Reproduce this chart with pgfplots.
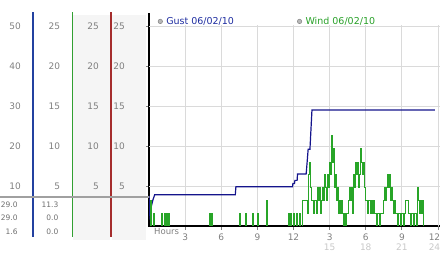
\documentclass[border=0pt]{standalone}
\usepackage{pgfplots}
\usepackage{pgfplotstable}
\pgfplotsset{compat=1.18}
\usepackage{fontspec}
\setmainfont{DejaVu Sans}
\definecolor{gustc}{RGB}{20,20,140}
\definecolor{gustleg}{RGB}{30,45,160}
\definecolor{windc}{RGB}{40,165,40}
\definecolor{windleg}{RGB}{40,160,40}
\definecolor{bluel}{RGB}{35,65,160}
\definecolor{greenl}{RGB}{50,160,50}
\definecolor{redl}{RGB}{165,45,45}
\definecolor{gridc}{RGB}{218,218,218}
\definecolor{panelbg}{RGB}{245,245,245}
\definecolor{tickc}{RGB}{128,128,128}
\definecolor{tick2c}{RGB}{200,200,200}
\definecolor{sepc}{RGB}{160,160,160}
\definecolor{statc}{RGB}{110,110,110}
\definecolor{legc}{RGB}{140,140,140}
\definecolor{legf}{RGB}{185,185,185}

\pgfplotsset{every axis/.append style={/pgf/number format/assume math mode=true}}
\pgfplotsset{
  colaxis/.style={
    scale only axis, width=1pt, anchor=south west,
    xmin=0, xmax=1, axis x line=none, axis y line*=left,
    xtick=\empty,
    axis line style={-},
    major tick length=0pt,
    yticklabel style={anchor=east, inner sep=0pt, xshift=-12pt, text=tickc, font=\fontsize{9}{10}\selectfont},
    clip=false,
  },
  helper/.style={
    at={(0pt,0pt)}, anchor=south west, scale only axis, width=442pt, height=253pt,
    xmin=0, xmax=442, ymin=0, ymax=253, hide axis, clip=false,
  }
}

% gust (km/h) against minutes after midnight
\pgfplotstableread{
min gust
0 3.8
5 0.8
12 2.5
20 3.3
28 3.9
430 3.9
433 4.9
715 4.9
717 5.3
725 5.3
727 5.7
738 5.7
740 6.5
783 6.5
788 8.0
793 9.6
802 9.6
812 14.5
1425 14.5
}\gusttable

% wind against minutes after midnight
\pgfplotstableread{
min wind
0 0
5 3.2
10 0
20 1.6
25 0
60 1.6
65 0
75 1.6
80 0
88 1.6
93 0
98 1.6
103 0
302 1.6
307 0
313 1.6
318 0
452 1.6
457 0
480 1.6
485 0
513 1.6
518 0
541 1.6
546 0
585 3.2
590 0
693 1.6
698 0
705 1.6
710 0
720 1.6
725 0
735 1.6
740 0
750 1.6
755 0
765 3.2
790 1.6
795 6.4
800 8.0
805 4.8
810 3.2
820 1.6
825 3.2
835 1.6
840 4.8
845 3.2
850 4.8
855 1.6
860 3.2
865 4.8
870 3.2
875 6.4
880 4.8
885 3.2
890 6.4
895 4.8
900 8.0
905 6.4
910 11.3
915 8.0
920 9.7
925 4.8
930 6.4
935 3.2
940 4.8
945 1.6
950 3.2
955 1.6
960 3.2
965 1.6
970 0
975 1.6
980 0
985 1.6
995 3.2
1000 4.8
1005 3.2
1010 4.8
1015 1.6
1020 6.4
1025 4.8
1030 8.0
1035 6.4
1040 8.0
1045 4.8
1050 6.4
1055 9.7
1060 8.0
1065 6.4
1070 8.0
1075 4.8
1080 3.2
1090 1.6
1095 3.2
1105 1.6
1110 3.2
1115 1.6
1120 3.2
1125 1.6
1135 0
1140 1.6
1150 0
1155 1.6
1170 3.2
1175 4.8
1180 3.2
1185 4.8
1190 6.4
1195 4.8
1200 6.4
1205 3.2
1210 4.8
1215 3.2
1220 1.6
1225 3.2
1230 1.6
1240 0
1245 1.6
1255 0
1260 1.6
1270 0
1275 1.6
1280 3.2
1295 1.6
1305 0
1310 1.6
1320 0
1325 1.6
1335 0
1340 4.8
1345 3.2
1350 1.6
1355 3.2
1360 1.6
1365 3.2
1370 0
1430 0
}\windtable

\begin{document}
\begin{tikzpicture}
\useasboundingbox (0,0) rectangle (442pt,253pt);

% background of the scale panel
\begin{axis}[helper]
\fill[panelbg] (axis cs:73,13) rectangle (axis cs:110,238);
\fill[panelbg] (axis cs:112,13) rectangle (axis cs:146,238);
\end{axis}

% scale columns
\begin{axis}[colaxis, at={(33pt,16pt)}, height=225pt, ymin=-2.75, ymax=53.5,
  ytick={10,20,...,50}, y axis line style={bluel, line width=1.3pt}]
\end{axis}
\begin{axis}[colaxis, at={(72.3pt,16pt)}, height=225pt, ymin=-1.375, ymax=26.75,
  ytick={5,10,...,25}, y axis line style={greenl, line width=1.3pt}]
\end{axis}
\begin{axis}[colaxis, at={(111pt,16pt)}, height=225pt, ymin=-1.375, ymax=26.75,
  ytick={5,10,...,25}, y axis line style={redl, line width=1.3pt}]
\end{axis}
\begin{axis}[colaxis, at={(149pt,26pt)}, height=214pt, ymin=-0.125, ymax=26.625,
  ytick={5,10,...,25}, y axis line style={black, line width=1.6pt},
  major tick length=3pt, tick align=outside, ytick style={tickc, line width=0.8pt},
  yticklabel style={xshift=-9pt}]
\end{axis}

% separator and current readings
\begin{axis}[helper]
\draw[sepc, line width=2.2pt] (axis cs:0,56.3) -- (axis cs:150,56.3);
\begin{scope}[every node/.style={anchor=east, inner sep=0pt, text=statc, font=\fontsize{7.5}{8}\selectfont}]
\node at (axis cs:17.8,48.5) {29.0};
\node at (axis cs:17.8,35) {29.0};
\node at (axis cs:17.8,21.3) {1.6};
\node at (axis cs:58.5,48.5) {11.3};
\node at (axis cs:58.5,35) {0.0};
\node at (axis cs:58.5,21.3) {0.0};
\end{scope}
\end{axis}

% main chart
\begin{axis}[
  at={(149pt,27pt)}, anchor=south west,
  scale only axis, width=291pt, height=201.2pt,
  xmin=0, xmax=1450, ymin=0, ymax=25.15,
  axis x line*=bottom, axis y line*=left,
  x axis line style={-, black, line width=1.6pt},
  y axis line style={draw=none},
  xtick={180,360,...,1260},
  xticklabels={3,6,9,12,{3\\\textcolor{tick2c}{15}},{6\\\textcolor{tick2c}{18}},{9\\\textcolor{tick2c}{21}}},
  extra x ticks={1440},
  extra x tick labels={{12\\\textcolor{tick2c}{24}}},
  extra x tick style={grid=major, xticklabel style={xshift=-3.5pt}},
  xticklabel style={align=center, text=tickc, font=\fontsize{9}{9.5}\selectfont, inner sep=0pt, yshift=-4pt},
  ytick={5,10,...,25}, yticklabels={}, ytick style={draw=none},
  tick align=outside, major tick length=4pt, xtick style={tickc, line width=0.8pt},
  grid=major, grid style={gridc, line width=0.9pt},
  xlabel={Hours},
  xlabel style={at={(axis description cs:0,0)}, anchor=base west, xshift=5pt, yshift=-9pt, text=tickc, font=\fontsize{8.5}{9}\selectfont, inner sep=0pt},
  legend columns=2,
  legend cell align=left,
  legend style={at={(axis description cs:0,1)}, anchor=south west, xshift=8.8pt, yshift=-1pt,
    draw=none, fill=none, inner sep=0pt, outer sep=0pt,
    font=\fontsize{9.5}{11}\selectfont, nodes={inner sep=0pt},
    /tikz/every odd column/.append style={column sep=3.5pt},
    /tikz/every even column/.append style={column sep=63pt}},
  legend image code/.code={\draw[legc, fill=legf, line width=0.6pt] (2.2pt,0pt) circle (2.2pt);},
]
\addplot[gustc, line width=1.2pt] table[x=min, y=gust] {\gusttable};
\addlegendentry{\textcolor{gustleg}{Gust 06/02/10}}
\addplot[const plot, windc, line width=0.9pt] table[x=min, y=wind] {\windtable};
\addlegendentry{\textcolor{windleg}{Wind 06/02/10}}
\end{axis}
\end{tikzpicture}
\end{document}
